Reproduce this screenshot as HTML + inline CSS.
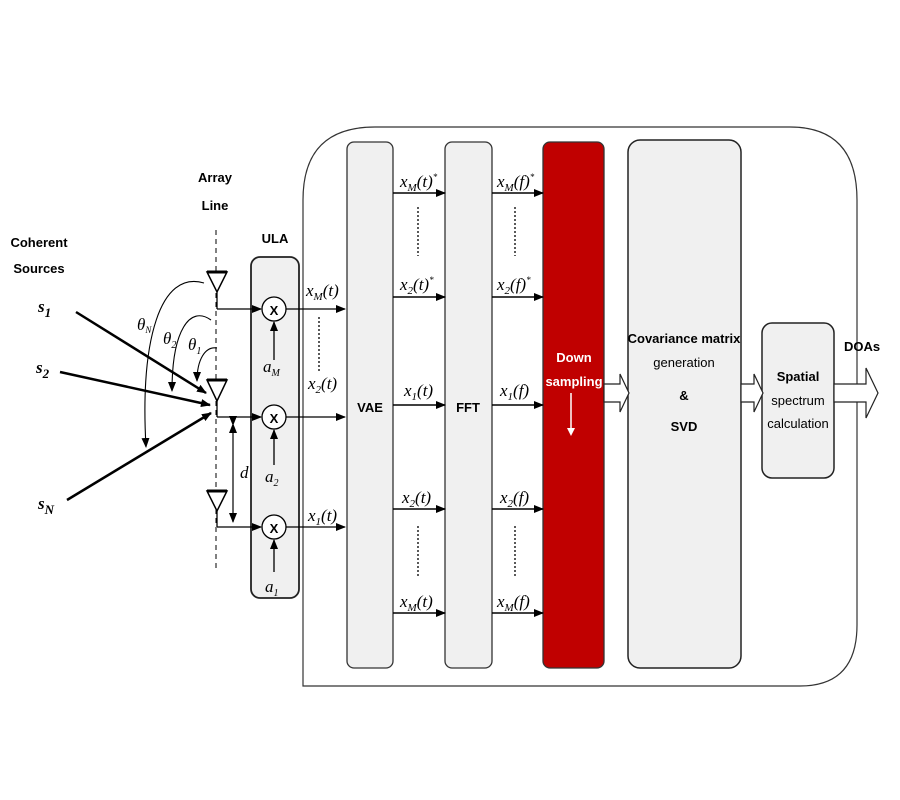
<!DOCTYPE html>
<html><head><meta charset="utf-8"><style>
html,body{margin:0;padding:0;background:#fff;}
svg{display:block;}
text{font-family:"Liberation Sans",sans-serif;}
.b{font-weight:bold;font-size:13px;font-family:"Liberation Sans Narrow","Liberation Sans",sans-serif;}
.m{font-family:"Liberation Serif",serif;font-style:italic;font-size:17px;}
</style></head><body>
<svg width="900" height="800" viewBox="0 0 900 800" xmlns="http://www.w3.org/2000/svg">
<defs>
<marker id="ar" markerWidth="10" markerHeight="8" refX="9" refY="4" orient="auto" markerUnits="userSpaceOnUse"><path d="M0,0 L10,4 L0,8 z" fill="#000"/></marker>
</defs>
<!-- container -->
<path d="M303,686 L303,200 Q303,127 375,127 L790,127 Q857,127 857,200 L857,625 Q857,686 800,686 Z" fill="#fff" stroke="#333" stroke-width="1.2"/>
<!-- blocks -->
<rect x="347" y="142" width="46" height="526" rx="7" fill="#f0f0f0" stroke="#333" stroke-width="1.3"/>
<rect x="445" y="142" width="47" height="526" rx="7" fill="#f0f0f0" stroke="#333" stroke-width="1.3"/>
<rect x="543" y="142" width="61" height="526" rx="7" fill="#c00000" stroke="#333" stroke-width="1.3"/>
<rect x="628" y="140" width="113" height="528" rx="12" fill="#f0f0f0" stroke="#222" stroke-width="1.5"/>
<rect x="762" y="323" width="72" height="155" rx="10" fill="#f0f0f0" stroke="#222" stroke-width="1.5"/>
<text x="370" y="412" class="b" text-anchor="middle">VAE</text>
<text x="468" y="412" class="b" text-anchor="middle">FFT</text>
<text x="574" y="362" class="b" text-anchor="middle" fill="#fff" font-size="14">Down</text>
<text x="574" y="386" class="b" text-anchor="middle" fill="#fff" font-size="14">sampling</text>
<line x1="571" y1="393" x2="571" y2="430" stroke="#fff" stroke-width="1.5"/>
<path d="M567,428 L575,428 L571,436 z" fill="#fff"/>
<text x="684" y="343" class="b" text-anchor="middle">Covariance matrix</text>
<text x="684" y="367" text-anchor="middle" font-size="13">generation</text>
<text x="684" y="400" class="b" text-anchor="middle">&amp;</text>
<text x="684" y="431" class="b" text-anchor="middle">SVD</text>
<text x="798" y="381" class="b" text-anchor="middle">Spatial</text>
<text x="798" y="405" text-anchor="middle" font-size="13">spectrum</text>
<text x="798" y="428" text-anchor="middle" font-size="13">calculation</text>
<text x="862" y="351" class="b" text-anchor="middle">DOAs</text>
<!-- fat arrows -->
<path d="M604,384 L620,384 L620,374 L629,393 L620,412 L620,402 L604,402 Z" fill="#fff" stroke="#222" stroke-width="1.2"/>
<path d="M741,384 L754,384 L754,374 L763,393 L754,412 L754,402 L741,402 Z" fill="#fff" stroke="#222" stroke-width="1.2"/>
<path d="M834,384 L866,384 L866,368 L878,393 L866,418 L866,402 L834,402 Z" fill="#fff" stroke="#222" stroke-width="1.2"/>
<!-- VAE->FFT and FFT->DS arrows -->
<g stroke="#000" stroke-width="1.5" marker-end="url(#ar)">
<line x1="393" y1="193" x2="445" y2="193"/><line x1="393" y1="297" x2="445" y2="297"/><line x1="393" y1="405" x2="445" y2="405"/><line x1="393" y1="509" x2="445" y2="509"/><line x1="393" y1="613" x2="445" y2="613"/>
<line x1="492" y1="193" x2="543" y2="193"/><line x1="492" y1="297" x2="543" y2="297"/><line x1="492" y1="405" x2="543" y2="405"/><line x1="492" y1="509" x2="543" y2="509"/><line x1="492" y1="613" x2="543" y2="613"/>
</g>
<g stroke="#000" stroke-width="1.3" stroke-dasharray="2,2">
<line x1="418" y1="207" x2="418" y2="256"/><line x1="515" y1="207" x2="515" y2="256"/>
<line x1="418" y1="526" x2="418" y2="576"/><line x1="515" y1="526" x2="515" y2="576"/>
<line x1="319" y1="317" x2="319" y2="372"/>
</g>
<g class="m">
<text x="400" y="187" class="m">x<tspan font-size="11" dy="4">M</tspan><tspan dy="-4">(t)</tspan><tspan font-size="9" dy="-7">*</tspan></text>
<text x="400" y="290" class="m">x<tspan font-size="11" dy="4">2</tspan><tspan dy="-4">(t)</tspan><tspan font-size="9" dy="-7">*</tspan></text>
<text x="404" y="396" class="m">x<tspan font-size="11" dy="4">1</tspan><tspan dy="-4">(t)</tspan></text>
<text x="402" y="503" class="m">x<tspan font-size="11" dy="4">2</tspan><tspan dy="-4">(t)</tspan></text>
<text x="400" y="607" class="m">x<tspan font-size="11" dy="4">M</tspan><tspan dy="-4">(t)</tspan></text>
<text x="497" y="187" class="m">x<tspan font-size="11" dy="4">M</tspan><tspan dy="-4">(f)</tspan><tspan font-size="9" dy="-7">*</tspan></text>
<text x="497" y="290" class="m">x<tspan font-size="11" dy="4">2</tspan><tspan dy="-4">(f)</tspan><tspan font-size="9" dy="-7">*</tspan></text>
<text x="500" y="396" class="m">x<tspan font-size="11" dy="4">1</tspan><tspan dy="-4">(f)</tspan></text>
<text x="500" y="503" class="m">x<tspan font-size="11" dy="4">2</tspan><tspan dy="-4">(f)</tspan></text>
<text x="497" y="607" class="m">x<tspan font-size="11" dy="4">M</tspan><tspan dy="-4">(f)</tspan></text>
<text x="306" y="296" class="m">x<tspan font-size="11" dy="4">M</tspan><tspan dy="-4">(t)</tspan></text>
<text x="308" y="389" class="m">x<tspan font-size="11" dy="4">2</tspan><tspan dy="-4">(t)</tspan></text>
<text x="308" y="521" class="m">x<tspan font-size="11" dy="4">1</tspan><tspan dy="-4">(t)</tspan></text>
</g>
<!-- ULA -->
<rect x="251" y="257" width="48" height="341" rx="9" fill="#f0f0f0" stroke="#222" stroke-width="1.8"/>
<text x="275" y="243" class="b" text-anchor="middle">ULA</text>
<g stroke="#000" stroke-width="1.3">
<circle cx="274" cy="309" r="12" fill="#fff"/><circle cx="274" cy="417" r="12" fill="#fff"/><circle cx="274" cy="527" r="12" fill="#fff"/>
</g>
<g class="b" font-size="15" text-anchor="middle"><text x="274" y="315" class="b" font-size="15">X</text><text x="274" y="423" class="b" font-size="15">X</text><text x="274" y="533" class="b" font-size="15">X</text></g>
<g stroke="#000" stroke-width="1.3" marker-end="url(#ar)">
<line x1="217" y1="309" x2="261" y2="309"/><line x1="217" y1="417" x2="261" y2="417"/><line x1="217" y1="527" x2="261" y2="527"/>
<line x1="286" y1="309" x2="345" y2="309"/><line x1="286" y1="417" x2="345" y2="417"/><line x1="286" y1="527" x2="345" y2="527"/>
<line x1="274" y1="360" x2="274" y2="322"/><line x1="274" y1="465" x2="274" y2="430"/><line x1="274" y1="572" x2="274" y2="540"/>
</g>
<g class="m" font-size="14">
<text x="263" y="372" class="m" font-size="14">a<tspan font-size="10" dy="4">M</tspan></text>
<text x="265" y="482" class="m" font-size="14">a<tspan font-size="10" dy="4">2</tspan></text>
<text x="265" y="592" class="m" font-size="14">a<tspan font-size="10" dy="4">1</tspan></text>
</g>
<!-- array line -->
<line x1="216" y1="230" x2="216" y2="568" stroke="#000" stroke-width="1" stroke-dasharray="5,4"/>
<text x="215" y="182" class="b" text-anchor="middle">Array</text>
<text x="215" y="210" class="b" text-anchor="middle">Line</text>
<text x="39" y="247" class="b" text-anchor="middle">Coherent</text>
<text x="39" y="273" class="b" text-anchor="middle">Sources</text>
<g fill="#fff" stroke="#000" stroke-width="1.5">
<path d="M207,272 L227,272 L217,292 Z"/><path d="M207,380 L227,380 L217,401 Z"/><path d="M207,491 L227,491 L217,511 Z"/>
</g>
<g stroke="#000" stroke-width="3"><line x1="207" y1="272" x2="227" y2="272"/><line x1="207" y1="380" x2="227" y2="380"/><line x1="207" y1="491" x2="227" y2="491"/></g>
<g stroke="#000" stroke-width="1.3"><line x1="217" y1="292" x2="217" y2="309"/><line x1="217" y1="401" x2="217" y2="417"/><line x1="217" y1="511" x2="217" y2="527"/></g>
<!-- d -->
<line x1="233" y1="425" x2="233" y2="522" stroke="#000" stroke-width="1.2" marker-end="url(#ar)" marker-start="url(#ar)"/>
<path d="M229,433 L233,423 L237,433z" fill="#000"/>
<text x="240" y="478" class="m" font-size="15">d</text>
<!-- sources -->
<g stroke="#000" stroke-width="2.5" marker-end="url(#ar)">
<line x1="76" y1="312" x2="206" y2="393"/>
<line x1="60" y1="372" x2="210" y2="405"/>
<line x1="67" y1="500" x2="211" y2="413"/>
</g>
<text x="38" y="312" class="m" font-size="20" font-style="normal" font-weight="bold" font-family="Liberation Serif">s<tspan font-size="13" dy="5">1</tspan></text>
<text x="36" y="373" class="m" font-size="20" font-weight="bold">s<tspan font-size="13" dy="5">2</tspan></text>
<text x="38" y="509" class="m" font-size="20" font-weight="bold">s<tspan font-size="13" dy="5">N</tspan></text>
<!-- angle arcs -->
<g fill="none" stroke="#000" stroke-width="1.1" marker-end="url(#ar)">
<path d="M204,283 C160,270 140,340 146,447"/>
<path d="M211,320 C190,305 172,330 172,391"/>
<path d="M217,348 C205,346 197,360 197,381"/>
</g>
<text x="137" y="330" class="m" font-size="14">θ<tspan font-size="9" dy="3">N</tspan></text>
<text x="163" y="344" class="m" font-size="14">θ<tspan font-size="10" dy="4">2</tspan></text>
<text x="188" y="350" class="m" font-size="14">θ<tspan font-size="10" dy="4">1</tspan></text>
</svg>
</body></html>
